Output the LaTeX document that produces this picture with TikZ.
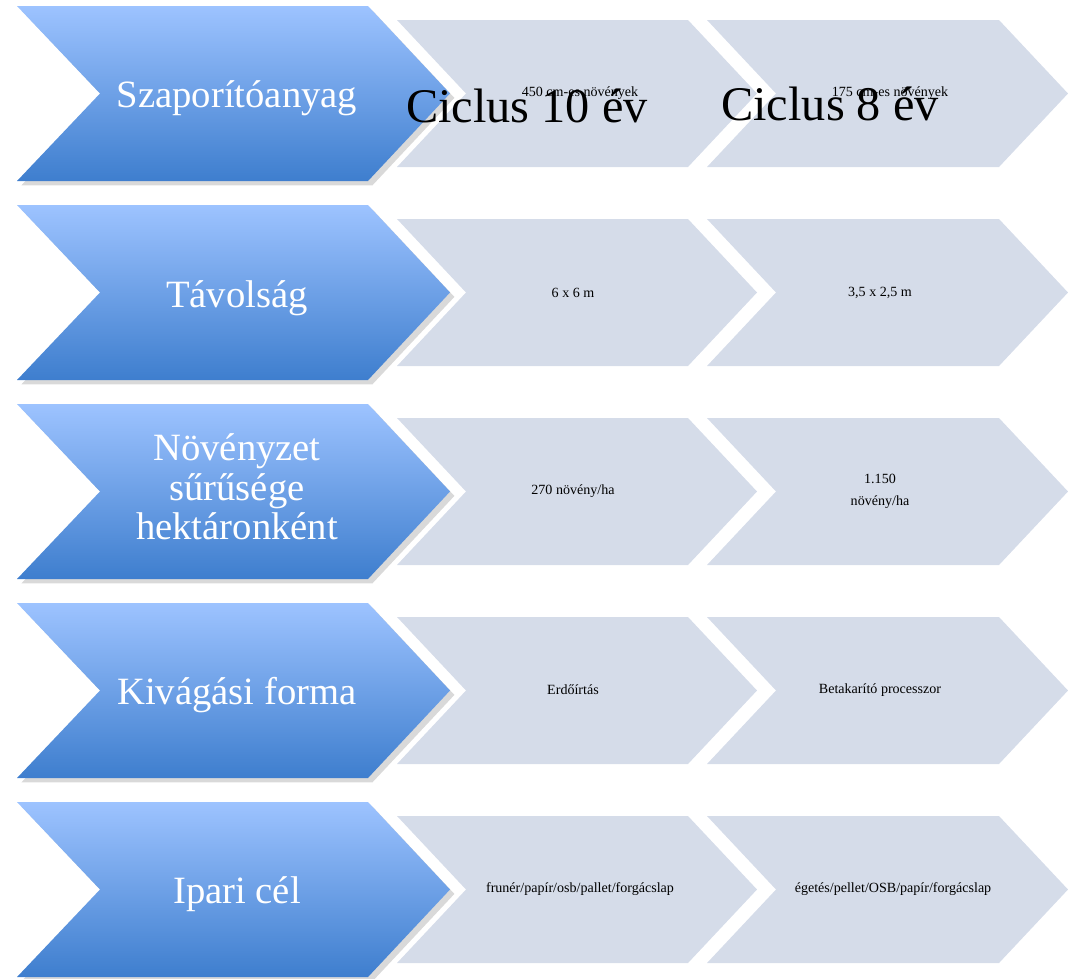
\documentclass[tikz,border=0pt]{standalone}
\usepackage{fontspec}
\setmainfont{Liberation Serif}
\usetikzlibrary{shadows}
\definecolor{chevtop}{RGB}{157,195,255}
\definecolor{chevbot}{RGB}{62,126,206}
\definecolor{chevgray}{RGB}{213,220,233}

\begin{document}
\begin{tikzpicture}[x=0.02cm, y=-0.02cm,
    bluechev/.style={top color=chevtop, bottom color=chevbot, draw=none,
      drop shadow={shadow xshift=2.5pt, shadow yshift=-2.5pt, opacity=.3}},
    graychev/.style={fill=chevgray, draw=none},
    headtxt/.style={text=white, font=\fontsize{22}{22.4}\selectfont, align=center},
    celltxt/.style={font=\fontsize{8}{12.5}\selectfont, align=center},
    cycletxt/.style={font=\fontsize{27.5}{30}\selectfont, anchor=base}]
  \useasboundingbox (0,0) rectangle (1068,978);
  % chevrons, one row every 199px
  \foreach \t in {0,199,398,597,796} {
    \fill[graychev] (397,\t+20) -- (688,\t+20) -- (757,\t+93.5) -- (688,\t+167)
      -- (397,\t+167) -- (466,\t+93.5) -- cycle;
    \fill[graychev] (707,\t+20) -- (999,\t+20) -- (1068,\t+93.5) -- (999,\t+167)
      -- (707,\t+167) -- (776,\t+93.5) -- cycle;
    \path[bluechev] (17,\t+6) -- (368,\t+6) -- (450,\t+93.5) -- (368,\t+181)
      -- (17,\t+181) -- (100,\t+93.5) -- cycle;
  }
  % row headings
  \node[headtxt, anchor=base] (szap) at (237,107) {Szaporítóanyag};
  \node[headtxt, anchor=base] (tav)  at (237,307) {Távolság};
  \node[headtxt] (nov) at (237,487) {Növényzet\\sűrűsége\\hektáronként};
  \node[headtxt, anchor=base] (kiv)  at (237,704) {Kivágási forma};
  \node[headtxt, anchor=base] (ipar) at (237,903) {Ipari cél};
  % cells
  \node[celltxt] (szapa) at (580,93) {450 cm-es növények};
  \node[celltxt] (szapb) at (890,93) {175 cm-es növények};
  \node[celltxt] (tava)  at (573,293) {6 x 6 m};
  \node[celltxt] (tavb)  at (880,293) {3,5 x 2,5 m};
  \node[celltxt] (nova)  at (573,491) {270 növény/ha};
  \node[celltxt] (novb)  at (880,491) {1.150\\növény/ha};
  \node[celltxt] (kiva)  at (573,690) {Erdőírtás};
  \node[celltxt] (kivb)  at (880,690) {Betakarító processzor};
  \node[celltxt] (ipara) at (580,889) {frunér/papír/osb/pallet/forgácslap};
  \node[celltxt] (iparb) at (893,889) {égetés/pellet/OSB/papír/forgácslap};
  % cycle titles
  \node[cycletxt] (cika) at (527,122) {Ciclus 10 év};
  \node[cycletxt] (cikb) at (830,120) {Ciclus 8 év};
\end{tikzpicture}
\end{document}
